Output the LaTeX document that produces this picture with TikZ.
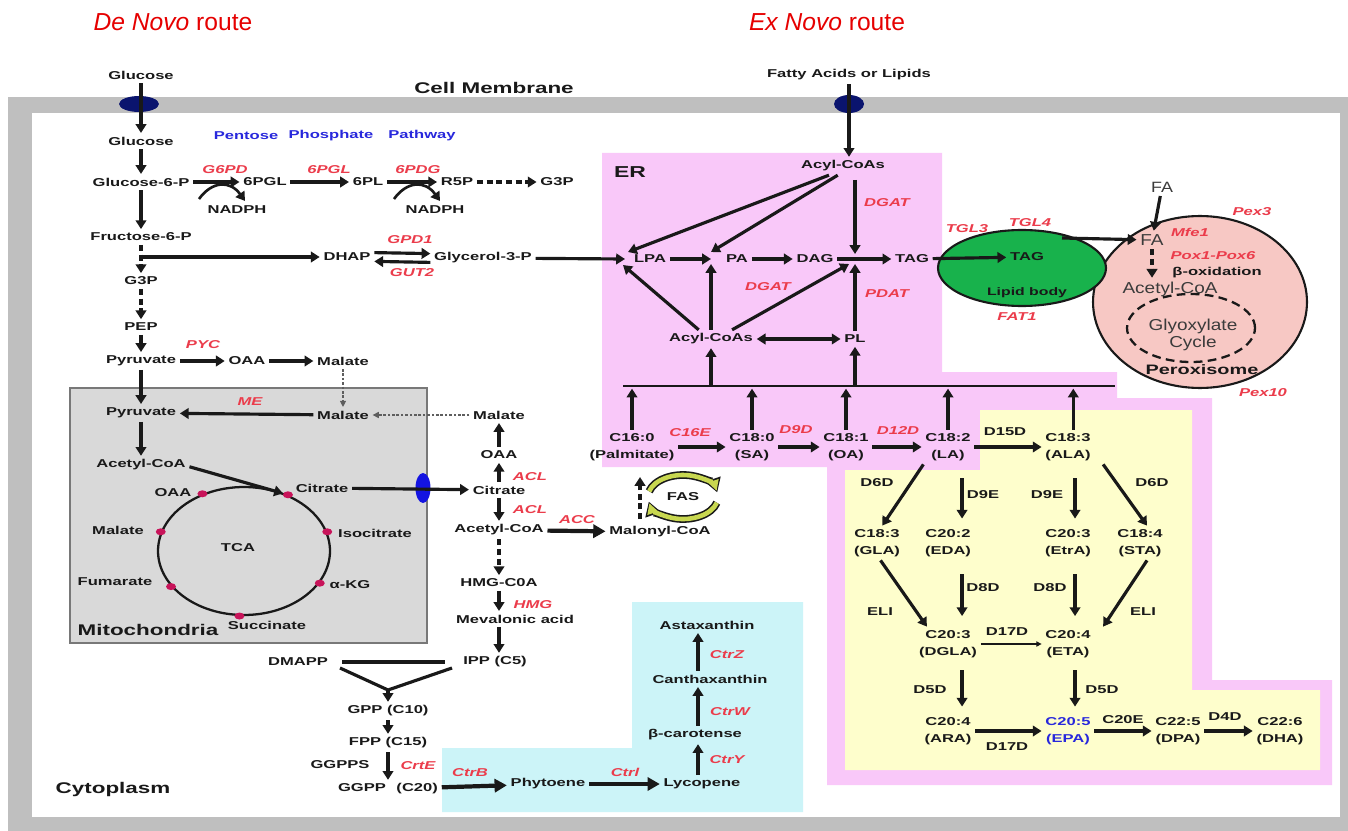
\documentclass[tikz,border=0pt]{standalone}
\usepackage{fontspec}
\usetikzlibrary{arrows.meta,shapes.geometric}
\newfontfamily\labfont{Liberation Sans}[FakeStretch=1.45]
\newfontfamily\regfont{Liberation Sans}[FakeStretch=1.2]
\newfontfamily\ttlfont{Liberation Sans}
\definecolor{txt}{RGB}{25,25,25}
\definecolor{memgray}{RGB}{191,191,191}
\definecolor{mitogray}{RGB}{217,217,217}
\definecolor{mitoedge}{RGB}{120,120,120}
\definecolor{erpink}{RGB}{249,200,249}
\definecolor{ylw}{RGB}{254,254,204}
\definecolor{cyn}{RGB}{204,244,248}
\definecolor{lbgreen}{RGB}{24,178,76}
\definecolor{pxpink}{RGB}{247,200,196}
\definecolor{enzred}{RGB}{235,60,75}
\definecolor{ppblue}{RGB}{40,40,220}
\definecolor{navy}{RGB}{10,20,110}
\definecolor{tblue}{RGB}{20,20,225}
\definecolor{dotc}{RGB}{200,20,90}
\definecolor{ttlred}{RGB}{230,0,0}
\definecolor{fasg}{RGB}{200,215,80}
\begin{document}
\begin{tikzpicture}[x=0.02cm,y=-0.02cm,
 lbl/.style={font=\labfont\bfseries\fontsize{6.5}{9.5}\selectfont, text=txt, inner sep=2pt, align=center},
 enz/.style={font=\labfont\bfseries\itshape\fontsize{6.5}{9.5}\selectfont, text=enzred, inner sep=1pt},
 bigl/.style={font=\labfont\bfseries\fontsize{8.8}{10}\selectfont, text=txt, inner sep=2pt},
 rg/.style={font=\regfont\fontsize{9}{9.5}\selectfont, text=txt!85, inner sep=2pt, align=center},
 blu/.style={lbl, text=ppblue},
 ttl/.style={font=\ttlfont\fontsize{14}{16}\selectfont, text=ttlred},
 arr/.style={draw=txt, line width=1.8pt, -{Triangle[length=5pt,width=6pt]}},
 barr/.style={draw=txt, line width=2.4pt, -{Triangle[length=7pt,width=7.5pt]}},
 darr/.style={draw=txt, line width=1.8pt, {Triangle[length=5pt,width=6pt]}-{Triangle[length=5pt,width=6pt]}},
 tarr/.style={draw=txt, line width=0.6pt, -{Triangle[length=3pt,width=3pt]}},
 dotarr/.style={draw=txt!70, line width=0.6pt, dash pattern=on 1.5pt off 1pt, -{Triangle[length=3.5pt,width=3.5pt]}},
 dsh/.style={dash pattern=on 3.5pt off 2pt},
 transp/.style={ellipse, fill=navy, inner sep=0pt},
 tdot/.style={ellipse, fill=dotc, inner sep=0pt, minimum width=0.2cm, minimum height=0.14cm}
]
\useasboundingbox (0,0) rectangle (1348,831);
\fill[white] (0,0) rectangle (1348,831);
% membrane
\fill[memgray] (8,97) rectangle (1348,831);
\fill[white] (32,113) rectangle (1340,817);
% regions
\fill[erpink] (602,153) -- (942,153) -- (942,372) -- (1117,372) -- (1117,398) -- (1212,398) -- (1212,680) -- (1332,680) -- (1332,785) -- (827,785) -- (827,467) -- (602,467) -- cycle;
\fill[ylw] (980,410) -- (1192,410) -- (1192,690) -- (1320,690) -- (1320,770) -- (845,770) -- (845,470) -- (980,470) -- cycle;
\fill[cyn] (632,602) -- (803,602) -- (803,812) -- (442,812) -- (442,748) -- (632,748) -- cycle;
\draw[draw=mitoedge, fill=mitogray, line width=1.1pt] (70,388) rectangle (427,643);
\coordinate (barL) at (623,386);
\coordinate (barR) at (1115,386);
\draw[line width=0.8pt, draw=txt] (barL) -- (barR);

% titles
\node[ttl] (denovo) at (173,22) {\itshape De Novo\/ \upshape route};
\node[ttl] (exnovo) at (827,22) {\itshape Ex Novo\/ \upshape route};

% transporters
\node[transp, minimum width=0.8cm, minimum height=0.32cm] (tr1) at (139,104) {};
\node[transp, minimum width=0.6cm, minimum height=0.36cm] (tr2) at (849,104) {};
\node[ellipse, fill=tblue, inner sep=0pt, minimum width=0.3cm, minimum height=0.6cm] (tr3) at (423,488) {};

% top labels
\node[lbl] (glc0) at (141,75) {Glucose};
\node[bigl] (cellm) at (494,88) {Cell Membrane};
\node[lbl] (fal) at (849,75) {Fatty Acids or Lipids};

% glycolysis
\node[lbl] (glc) at (141,141) {Glucose};
\node[lbl] (g6p) at (141,182) {Glucose-6-P};
\node[lbl] (f6p) at (141,237) {Fructose-6-P};
\node[lbl] (g3p) at (141,281) {G3P};
\node[lbl] (pep) at (141,327) {PEP};
\node[lbl] (pyr) at (141,361) {Pyruvate};

% PPP
\node[blu] (ppp1) at (246,136) {Pentose};
\node[blu] (ppp2) at (331,136) {Phosphate};
\node[blu] (ppp3) at (422,136) {Pathway};
\node[lbl] (pgl) at (265,182) {6PGL};
\node[lbl] (pl6) at (368,182) {6PL};
\node[lbl] (r5p) at (457,182) {R5P};
\node[lbl] (g3pb) at (557,182) {G3P};
\node[lbl] (nad1) at (237,210) {NADPH};
\node[lbl] (nad2) at (435,210) {NADPH};
\node[enz] (eG6PD) at (225,170) {G6PD};
\node[enz] (e6PGL) at (329,170) {6PGL};
\node[enz] (e6PDG) at (418,170) {6PDG};

% DHAP
\node[lbl] (dhap) at (347,257) {DHAP};
\node[lbl] (g3pl) at (483,258) {Glycerol-3-P};
\node[enz] (eGPD1) at (410,240) {GPD1};
\node[enz] (eGUT2) at (412,273) {GUT2};

% ER
\node[bigl, font=\labfont\bfseries\fontsize{9}{10}\selectfont] (er) at (630,172) {ER};
\node[lbl] (acyt) at (843,166) {Acyl-CoAs};
\node[lbl] (lpa) at (650,259) {LPA};
\node[lbl] (pa) at (737,259) {PA};
\node[lbl] (dag) at (815,259) {DAG};
\node[lbl] (tag) at (912,259) {TAG};
\node[enz] (eDGAT1) at (887,203) {DGAT};
\node[enz] (eDGAT2) at (768,287) {DGAT};
\node[enz] (ePDAT) at (887,294) {PDAT};
\node[lbl] (acyb) at (711,339) {Acyl-CoAs};
\node[lbl] (pl) at (855,339) {PL};

% fatty acids
\node[lbl] (c160) at (632,447) {C16:0\\(Palmitate)};
\node[lbl] (c180) at (752,447) {C18:0\\(SA)};
\node[lbl] (c181) at (846,447) {C18:1\\(OA)};
\node[lbl] (c182) at (948,447) {C18:2\\(LA)};
\node[lbl] (c183) at (1068,447) {C18:3\\(ALA)};
\node[enz] (eC16E) at (690,433) {C16E};
\node[enz] (eD9D) at (796,430) {D9D};
\node[enz] (eD12D) at (898,431) {D12D};
\node[lbl] (d15d) at (1005,432) {D15D};

% yellow region
\node[lbl] (gla) at (877,543) {C18:3\\(GLA)};
\node[lbl] (eda) at (948,543) {C20:2\\(EDA)};
\node[lbl] (etra) at (1068,543) {C20:3\\(EtrA)};
\node[lbl] (sta) at (1140,543) {C18:4\\(STA)};
\node[lbl] (dgla) at (948,644) {C20:3\\(DGLA)};
\node[lbl] (eta) at (1068,644) {C20:4\\(ETA)};
\node[lbl] (ara) at (948,731) {C20:4\\(ARA)};
\node[lbl, text=ppblue] (epa) at (1068,731) {C20:5\\(EPA)};
\node[lbl] (dpa) at (1178,731) {C22:5\\(DPA)};
\node[lbl] (dha) at (1280,731) {C22:6\\(DHA)};
\node[lbl] (d6dL) at (877,483) {D6D};
\node[lbl] (d6dR) at (1152,483) {D6D};
\node[lbl] (d9eL) at (983,495) {D9E};
\node[lbl] (d9eR) at (1047,495) {D9E};
\node[lbl] (d8dL) at (983,588) {D8D};
\node[lbl] (d8dR) at (1050,588) {D8D};
\node[lbl] (eliL) at (880,612) {ELI};
\node[lbl] (eliR) at (1143,612) {ELI};
\node[lbl] (d17dA) at (1007,632) {D17D};
\node[lbl] (d5dL) at (930,690) {D5D};
\node[lbl] (d5dR) at (1102,690) {D5D};
\node[lbl] (d17dB) at (1007,747) {D17D};
\node[lbl] (c20e) at (1123,720) {C20E};
\node[lbl] (d4d) at (1225,717) {D4D};

% peroxisome and lipid body
\node[ellipse, draw=txt, line width=1.2pt, fill=pxpink, minimum width=4.28cm, minimum height=3.44cm] (perox) at (1200,302) {};
\node[ellipse, draw=txt, line width=1.2pt, fill=lbgreen, minimum width=3.36cm, minimum height=1.52cm] (lb) at (1022,268) {};
\node[ellipse, draw=txt, line width=1.3pt, dash pattern=on 5pt off 3pt, minimum width=2.56cm, minimum height=1.36cm] (glyox) at (1191,328) {};
\node[lbl] (tag2) at (1027,257) {TAG};
\node[lbl, font=\labfont\bfseries\fontsize{6.2}{9}\selectfont] (lbt) at (1027,293) {Lipid body};
\node[enz] (eTGL3) at (967,229) {TGL3};
\node[enz] (eTGL4) at (1030,223) {TGL4};
\node[enz] (eFAT1) at (1017,317) {FAT1};
\node[rg, font=\regfont\fontsize{8.5}{9.5}\selectfont] (faTop) at (1162,187) {FA};
\node[rg] (faIn) at (1152,240) {FA};
\node[enz] (eMfe1) at (1190,232) {Mfe1};
\node[enz] (ePox) at (1213,256) {Pox1-Pox6};
\node[lbl] (boxi) at (1217,273) {β-oxidation};
\node[rg] (acp) at (1170,289) {Acetyl-CoA};
\node[rg] (glyt) at (1193,335) {Glyoxylate\\Cycle};
\node[bigl, font=\labfont\bfseries\fontsize{7.8}{9}\selectfont] (peroxL) at (1202,370) {Peroxisome};
\node[enz] (ePex3) at (1252,212) {Pex3};
\node[enz] (ePex10) at (1263,393) {Pex10};

% mitochondria
\node[lbl] (pyrm) at (141,413) {Pyruvate};
\node[lbl] (acm) at (141,465) {Acetyl-CoA};
\node[lbl] (malM) at (343,415) {Malate};
\node[enz] (eME) at (250,402) {ME};
\node[lbl] (oaaC) at (247,361) {OAA};
\node[lbl] (malC) at (343,361) {Malate};
\node[enz] (ePYC) at (203,345) {PYC};
\node[ellipse, draw=txt, line width=1.3pt, minimum width=3.44cm, minimum height=2.56cm] (tca) at (244,551) {};
\node[lbl] (tcaL) at (238,548) {TCA};
\node[tdot] (dOAA) at (tca.126) {};
\node[tdot] (dCit) at (tca.52) {};
\node[tdot] (dIso) at (tca.13) {};
\node[tdot] (dAkg) at (tca.-23) {};
\node[tdot] (dSuc) at (tca.-94) {};
\node[tdot] (dFum) at (tca.-154) {};
\node[tdot] (dMal) at (tca.167) {};
\node[lbl] (oaaT) at (173,493) {OAA};
\node[lbl] (citM) at (322,488) {Citrate};
\node[lbl] (isoc) at (375,533) {Isocitrate};
\node[lbl] (malT) at (118,530) {Malate};
\node[lbl] (fum) at (115,582) {Fumarate};
\node[lbl] (akg) at (350,585) {α-KG};
\node[lbl] (succ) at (267,625) {Succinate};
\node[bigl] (mitoL) at (148,630) {Mitochondria};

% cytoplasm column
\node[lbl] (malX) at (499,415) {Malate};
\node[lbl] (oaaX) at (499,455) {OAA};
\node[lbl] (citC) at (499,490) {Citrate};
\node[lbl] (acC) at (499,530) {Acetyl-CoA};
\node[lbl] (hmg) at (499,583) {HMG-C0A};
\node[lbl] (mev) at (515,619) {Mevalonic acid};
\node[lbl] (ipp) at (495,662) {IPP (C5)};
\node[enz] (eACL1) at (530,477) {ACL};
\node[enz] (eACL2) at (530,510) {ACL};
\node[enz] (eACC) at (577,520) {ACC};
\node[lbl] (malo) at (660,532) {Malonyl-CoA};
\node[enz] (eHMG) at (533,605) {HMG};
\node[lbl] (fas) at (683,497) {FAS};

% terpenoid
\node[lbl] (dmapp) at (298,662) {DMAPP};
\node[lbl] (gpp) at (388,711) {GPP (C10)};
\node[lbl] (fpp) at (388,743) {FPP (C15)};
\node[lbl] (ggpps) at (340,765) {GGPPS};
\node[enz] (eCrtE) at (418,766) {CrtE};
\node[lbl] (ggpp) at (388,789) {GGPP\hspace{6pt}(C20)};
\node[bigl] (cyto) at (113,789) {Cytoplasm};
\node[lbl] (phy) at (548,784) {Phytoene};
\node[lbl] (lyc) at (702,784) {Lycopene};
\node[lbl] (bcar) at (695,735) {β-carotense};
\node[lbl] (cantha) at (710,679) {Canthaxanthin};
\node[lbl] (asta) at (707,625) {Astaxanthin};
\node[enz] (eCtrB) at (470,773) {CtrB};
\node[enz] (eCtrl) at (625,772) {Ctrl};
\node[enz] (eCtrY) at (727,760) {CtrY};
\node[enz] (eCtrW) at (730,712) {CtrW};
\node[enz] (eCtrZ) at (727,655) {CtrZ};

% ---------- connectors ----------
% glycolysis
\draw[arr] (glc0) -- (glc);
\draw[arr] (glc) -- (g6p);
\draw[arr] (g6p) -- (f6p);
\draw[arr, dsh] (f6p) -- (g3p);
\draw[arr, dsh] (g3p) -- (pep);
\draw[arr] (pep) -- (pyr);
\draw[arr] (pyr) -- (pyrm);
\draw[arr] (pyrm) -- (acm);
\coordinate (jg) at (141,257);
\draw[arr] (jg) -- (dhap);
\draw[arr] ([yshift=2.5pt]dhap.east) -- ([yshift=2.5pt]g3pl.west);
\draw[arr] ([yshift=-2.5pt]g3pl.west) -- ([yshift=-2.5pt]dhap.east);
% PPP
\draw[arr] (g6p) -- (pgl);
\draw[arr] (pgl) -- (pl6);
\draw[arr] (pl6) -- (r5p);
\draw[arr, dsh] (r5p) -- (g3pb);
\coordinate (n1a) at (199,199); \coordinate (n1b) at (245,201);
\coordinate (n2a) at (394,199); \coordinate (n2b) at (440,201);
\draw[arr, line width=1.5pt] (n1a) .. controls (212,181) and (230,180) .. (n1b);
\draw[arr, line width=1.5pt] (n2a) .. controls (407,181) and (425,180) .. (n2b);
% pyruvate / malate shuttle
\draw[arr] (pyr) -- (oaaC);
\draw[arr] (oaaC) -- (malC);
\draw[dotarr] (malC) -- (malM);
\draw[arr] (malM) -- (pyrm);
\draw[dotarr] (malX) -- (malM);
\draw[arr] ([yshift=-1pt]acm.east) -- (dCit);
\draw[arr] (citM) -- (citC);
\draw[arr] (citC) -- (oaaX);
\draw[arr] (oaaX) -- (malX);
\draw[arr] (citC) -- (acC);
\draw[arr, dsh] (acC) -- (hmg);
\draw[arr] (hmg.south) -- (hmg.south |- mev.north);
\draw[arr] (hmg.south |- mev.south) -- (hmg.south |- ipp.north);
\draw[barr] (acC) -- (malo);
\coordinate (fasA) at (640,519); \coordinate (fasB) at (640,477);
\draw[arr, dsh] (fasA) -- (fasB);
% FAS ring
\draw[line width=4.4pt, draw=txt, -{Triangle[length=8pt,width=9pt]}] ([shift={(165:0.7cm and 0.44cm)}]fas.center) arc[start angle=165, end angle=12, x radius=0.7cm, y radius=0.44cm];
\draw[line width=2.6pt, draw=fasg, -{Triangle[length=6pt,width=6pt]}, shorten >=1pt] ([shift={(165:0.7cm and 0.44cm)}]fas.center) arc[start angle=165, end angle=12, x radius=0.7cm, y radius=0.44cm];
\draw[line width=4.4pt, draw=txt, -{Triangle[length=8pt,width=9pt]}] ([shift={(-15:0.7cm and 0.44cm)}]fas.center) arc[start angle=-15, end angle=-168, x radius=0.7cm, y radius=0.44cm];
\draw[line width=2.6pt, draw=fasg, -{Triangle[length=6pt,width=6pt]}, shorten >=1pt] ([shift={(-15:0.7cm and 0.44cm)}]fas.center) arc[start angle=-15, end angle=-168, x radius=0.7cm, y radius=0.44cm];
% terpenoids
\draw[line width=1.8pt, draw=txt, shorten <=6pt, shorten >=8pt] (dmapp.east) -- (ipp.west);
\coordinate (vL) at (340,668); \coordinate (vR) at (452,668); \coordinate (vM) at (388,690);
\draw[line width=1.8pt, draw=txt] (vL) -- (vM) -- (vR);
\draw[arr] (vM) -- (gpp.north);
\draw[arr] (gpp) -- (fpp);
\draw[arr] (fpp) -- (ggpp);
\draw[barr] (ggpp) -- (phy);
\draw[barr] (phy) -- (lyc);
\coordinate (colc) at (698,700);
\draw[arr] (colc |- lyc.north) -- (colc |- bcar.south);
\draw[arr] (colc |- bcar.north) -- (colc |- cantha.south);
\draw[arr] (colc |- cantha.north) -- (colc |- asta.south);
% ex novo / ER
\draw[arr] (fal.south) -- (fal.south |- acyt.north);
\coordinate (jl) at (625,259); \coordinate (jlt) at (628,252); \coordinate (jlb) at (623,265);
\coordinate (jp) at (711,259); \coordinate (jpt) at (711,252); \coordinate (jpb) at (711,264);
\coordinate (vt) at (855,180); \coordinate (jtt) at (855,254); \coordinate (jtb) at (855,264); \coordinate (jd) at (849,264);
\draw[arr] (g3pl) -- (jl);
\draw[arr] ([xshift=-8pt]acyt.south) -- (jlt);
\draw[arr] ([xshift=-3pt]acyt.south) -- (jpt);
\draw[arr] (vt) -- (jtt);
\draw[arr] (lpa) -- (jp);
\draw[arr] (pa) -- (dag);
\draw[arr] (dag) -- (tag);
\draw[arr] ([xshift=-7pt]acyb.north) -- (jlb);
\draw[arr] (acyb.north) -- (jpb);
\draw[arr] ([xshift=12pt]acyb.north) -- (jd);
\draw[arr] (pl.north) -- (jtb);
\draw[darr] (acyb) -- (pl);
\coordinate (b1) at (711,386); \coordinate (b2) at (855,386);
\draw[arr] (b1) -- (acyb.south);
\draw[arr] (b2) -- (pl.south);
\draw[arr, shorten >=1.5pt] (c160.north) -- (c160.north |- barL);
\draw[arr, shorten >=1.5pt] (c180.north) -- (c180.north |- barL);
\draw[arr, shorten >=1.5pt] (c181.north) -- (c181.north |- barL);
\draw[arr, shorten >=1.5pt] (c182.north) -- (c182.north |- barL);
\draw[arr, shorten >=1.5pt] ([xshift=3pt]c183.north) -- ([xshift=3pt]c183.north |- barL);
\draw[arr] (c160) -- (c180);
\draw[arr] (c180) -- (c181);
\draw[arr] (c181) -- (c182);
\draw[arr] (c182) -- (c183);
% yellow region
\draw[arr] ([xshift=-14pt]c182.south) -- ([xshift=3pt]gla.north);
\draw[arr, shorten <=8pt, shorten >=4pt] ([xshift=8pt]c182.south) -- ([xshift=8pt]eda.north);
\draw[arr, shorten <=8pt, shorten >=4pt] ([xshift=4pt]c183.south) -- ([xshift=4pt]etra.north);
\draw[arr] ([xshift=20pt]c183.south) -- ([xshift=4pt]sta.north);
\draw[arr] ([xshift=2pt]gla.south) -- ([xshift=-12pt]dgla.north);
\draw[arr, shorten <=8pt, shorten >=6pt] ([xshift=8pt]eda.south) -- ([xshift=8pt]dgla.north);
\draw[arr, shorten <=8pt, shorten >=6pt] ([xshift=4pt]etra.south) -- ([xshift=4pt]eta.north);
\draw[arr] ([xshift=4pt]sta.south) -- ([xshift=20pt]eta.north);
\draw[tarr] (dgla) -- (eta);
\draw[arr, shorten <=5pt, shorten >=4pt] ([xshift=8pt]dgla.south) -- ([xshift=8pt]ara.north);
\draw[arr, shorten <=5pt, shorten >=4pt] ([xshift=4pt]eta.south) -- ([xshift=4pt]epa.north);
\draw[arr] (ara) -- (epa);
\draw[arr] (epa) -- (dpa);
\draw[arr] (dpa) -- (dha);
% lipid body / peroxisome
\draw[arr] (tag) -- (tag2);
\coordinate (lbo) at (1062,238);
\draw[arr] (lbo) -- (faIn);
\draw[arr] (faTop) -- (faIn);
\draw[arr, dsh] (faIn.south) -- (faIn.south |- acp.north);
\end{tikzpicture}
\end{document}
